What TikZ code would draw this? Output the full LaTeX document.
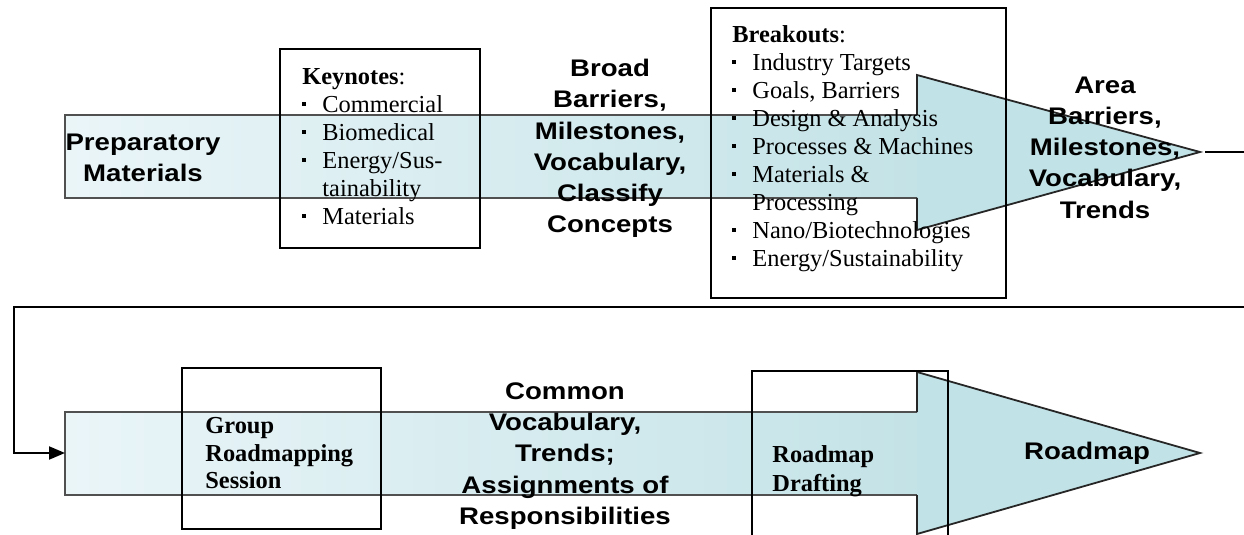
\documentclass[tikz,border=0pt]{standalone}
\usepackage{fontspec}
\setmainfont{Liberation Serif}
\newfontfamily\arialfont[FakeStretch=1.15]{Liberation Sans}
\usetikzlibrary{arrows.meta}
\definecolor{bodyleft}{RGB}{234,245,248}
\definecolor{bodyright}{RGB}{196,227,231}
\definecolor{headfill}{RGB}{193,226,230}
\definecolor{rimgray}{RGB}{80,80,80}
\newcommand{\sqb}{\makebox[10pt][l]{\rule[3.4pt]{1.8pt}{1.8pt}}}

\begin{document}
\begin{tikzpicture}[x=0.5pt,y=-0.5pt,
  box/.style={draw=black,line width=1pt},
  rim/.style={draw=rimgray,line width=1.4pt},
  headrim/.style={draw=black!85,line width=0.9pt,line join=miter},
  link/.style={draw=black,line width=1pt},
  sans/.style={font=\arialfont\bfseries\fontsize{12}{15.6}\selectfont,align=center,inner sep=0pt},
  serif/.style={font=\fontsize{12.2}{14}\selectfont,align=left,inner sep=0pt,anchor=north west}]
\clip (0,0) rectangle (1244,535);

\coordinate (A0) at (65,115);
\coordinate (A1) at (917,198);
\coordinate (A2) at (917,75);
\coordinate (A3) at (917,230);
\coordinate (tipA) at (1200,152);
\coordinate (B0) at (65,412);
\coordinate (B1) at (917,495);
\coordinate (B2) at (917,372);
\coordinate (B3) at (917,534);
\coordinate (tipB) at (1200,453);
\coordinate (tailB) at (65,453);

\fill[left color=bodyleft,right color=bodyright] (A0) rectangle (A1);
\fill[headfill] (A2) -- (tipA) -- (A3) -- cycle;
\fill[headfill] (917,115) rectangle (A1);
\draw[rim] (917,115) -- (A0) -- (65,198) -- (A1);
\draw[headrim] (917,115) -- (A2) -- (tipA) -- (A3) -- (A1);

\fill[left color=bodyleft,right color=bodyright] (B0) rectangle (B1);
\fill[headfill] (B2) -- (tipB) -- (B3) -- cycle;
\fill[headfill] (917,412) rectangle (B1);
\draw[rim] (917,412) -- (B0) -- (65,495) -- (B1);
\draw[headrim] (917,412) -- (B2) -- (tipB) -- (B3) -- (B1);

\draw[box] (280,49) rectangle (480,248);
\draw[box] (711,8) rectangle (1006,298);
\draw[box] (182,368) rectangle (381,529);
\draw[box] (752,371) rectangle (948,545);

\coordinate (c1) at (1270,152);
\coordinate (c2) at (1270,307);
\coordinate (c3) at (14,307);
\coordinate (c4) at (14,453);
\draw[link,shorten <=2.5pt,-{Triangle[length=8pt,width=6.5pt]}]
  (tipA) -- (c1) -- (c2) -- (c3) -- (c4) -- (tailB);

\node[sans] (prep) at (143,157.5) {Preparatory\\Materials};
\node[sans] (broad) at (610,148.5) {Broad\\Barriers,\\Milestones,\\Vocabulary,\\Classify\\Concepts};
\node[sans] (area) at (1105,147.5) {Area\\Barriers,\\Milestones,\\Vocabulary,\\Trends};
\node[sans] (common) at (565,456) {Common\\Vocabulary,\\Trends;\\Assignments of\\Responsibilities};
\node[sans] (roadmap) at (1087,453) {Roadmap};

\node[serif] (keynotes) at (302,68) {\textbf{Keynotes}:\\
  \sqb Commercial\\ \sqb Biomedical\\ \sqb Energy/Sus-\\
  \hspace*{10pt}tainability\\ \sqb Materials};
\node[serif] (breakouts) at (732,25) {\textbf{Breakouts}:\\
  \sqb Industry Targets\\ \sqb Goals, Barriers\\ \sqb Design \& Analysis\\
  \sqb Processes \& Machines\\ \sqb Materials \&\\ \hspace*{10pt}Processing\\
  \sqb Nano/Biotechnologies\\ \sqb Energy/Sustainability};
\node[serif,font=\bfseries\fontsize{12.2}{13.8}\selectfont] (session) at (205,417) {Group\\Roadmapping\\Session};
\node[serif,font=\bfseries\fontsize{12.2}{14.4}\selectfont] (drafting) at (772,445) {Roadmap\\Drafting};
\end{tikzpicture}
\end{document}
